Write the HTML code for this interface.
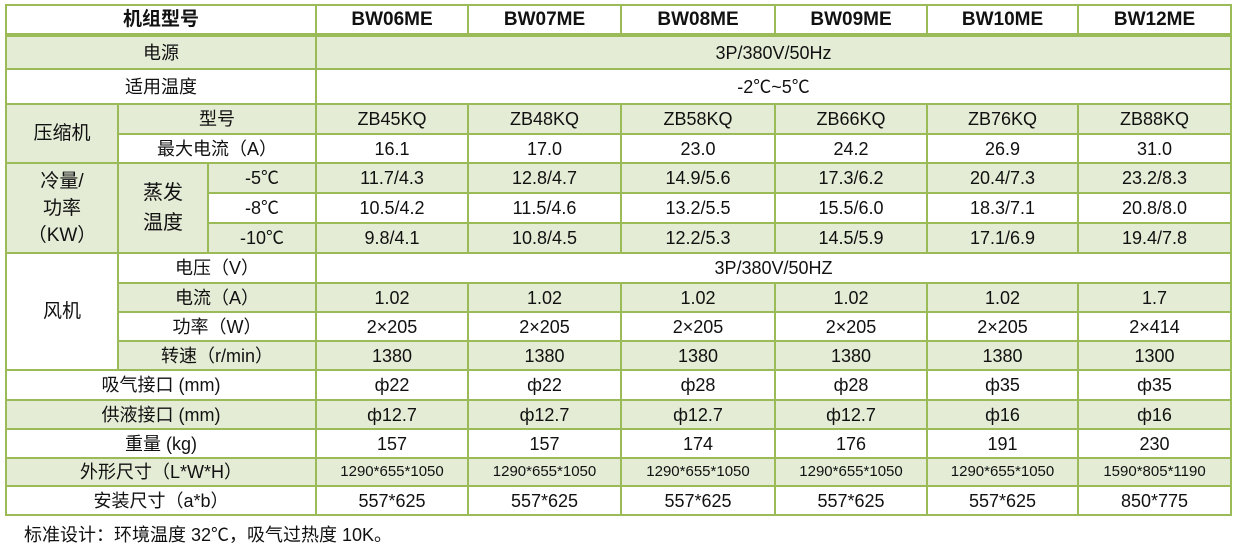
<!DOCTYPE html>
<html><head><meta charset="utf-8"><style>
body{margin:0;background:#fff;width:1238px;height:546px;overflow:hidden;font-family:"Liberation Sans","Noto Sans CJK SC",sans-serif;}
table{position:absolute;left:5px;top:4px;border-collapse:collapse;table-layout:fixed;width:1227px;}
td{border:2px solid #9bbb59;text-align:center;padding:0;font-size:18px;color:#111;line-height:20px;white-space:nowrap;overflow:hidden;}
.g td,td.g{background:#e4ecd6;}
td.w{background:#fff;}
.h td{font-weight:bold;font-size:19px;}
.h td{border-bottom:4px solid #9bbb59;}
.s{font-size:15px;}
.lh1{line-height:27px;font-size:19px;}
.lh2{line-height:30px;font-size:20px;}
.foot{position:absolute;left:24px;top:521px;font-size:18px;color:#111;}
</style></head><body>
<table>
<colgroup><col style="width:112px"><col style="width:90px"><col style="width:108px"><col style="width:152px"><col style="width:153px"><col style="width:154px"><col style="width:152px"><col style="width:151px"><col style="width:153px"></colgroup>
<tr class="h" style="height:30px"><td colspan="3">机组型号</td><td>BW06ME</td><td>BW07ME</td><td>BW08ME</td><td>BW09ME</td><td>BW10ME</td><td>BW12ME</td></tr>
<tr class="g" style="height:34px"><td colspan="3">电源</td><td colspan="6">3P/380V/50Hz</td></tr>
<tr style="height:35px"><td colspan="3">适用温度</td><td colspan="6">-2℃~5℃</td></tr>
<tr class="g" style="height:30px"><td rowspan="2" class="g" style="font-size:19px">压缩机</td><td colspan="2">型号</td><td>ZB45KQ</td><td>ZB48KQ</td><td>ZB58KQ</td><td>ZB66KQ</td><td>ZB76KQ</td><td>ZB88KQ</td></tr>
<tr style="height:29px"><td colspan="2">最大电流（A）</td><td>16.1</td><td>17.0</td><td>23.0</td><td>24.2</td><td>26.9</td><td>31.0</td></tr>
<tr class="g" style="height:30px"><td rowspan="3" class="g lh1">冷量/<br>功率<br>（KW）</td><td rowspan="3" class="g lh2">蒸发<br>温度</td><td>-5℃</td><td>11.7/4.3</td><td>12.8/4.7</td><td>14.9/5.6</td><td>17.3/6.2</td><td>20.4/7.3</td><td>23.2/8.3</td></tr>
<tr style="height:30px"><td>-8℃</td><td>10.5/4.2</td><td>11.5/4.6</td><td>13.2/5.5</td><td>15.5/6.0</td><td>18.3/7.1</td><td>20.8/8.0</td></tr>
<tr class="g" style="height:30px"><td>-10℃</td><td>9.8/4.1</td><td>10.8/4.5</td><td>12.2/5.3</td><td>14.5/5.9</td><td>17.1/6.9</td><td>19.4/7.8</td></tr>
<tr style="height:30px"><td rowspan="4" class="w" style="font-size:19px">风机</td><td colspan="2">电压（V）</td><td colspan="6">3P/380V/50HZ</td></tr>
<tr class="g" style="height:29px"><td colspan="2">电流（A）</td><td>1.02</td><td>1.02</td><td>1.02</td><td>1.02</td><td>1.02</td><td>1.7</td></tr>
<tr style="height:29px"><td colspan="2">功率（W）</td><td>2×205</td><td>2×205</td><td>2×205</td><td>2×205</td><td>2×205</td><td>2×414</td></tr>
<tr class="g" style="height:29px"><td colspan="2">转速（r/min）</td><td>1380</td><td>1380</td><td>1380</td><td>1380</td><td>1380</td><td>1300</td></tr>
<tr style="height:30px"><td colspan="3">吸气接口 (mm)</td><td>ф22</td><td>ф22</td><td>ф28</td><td>ф28</td><td>ф35</td><td>ф35</td></tr>
<tr class="g" style="height:29px"><td colspan="3">供液接口 (mm)</td><td>ф12.7</td><td>ф12.7</td><td>ф12.7</td><td>ф12.7</td><td>ф16</td><td>ф16</td></tr>
<tr style="height:29px"><td colspan="3">重量 (kg)</td><td>157</td><td>157</td><td>174</td><td>176</td><td>191</td><td>230</td></tr>
<tr class="g" style="height:28px"><td colspan="3">外形尺寸（L*W*H）</td><td class="s">1290*655*1050</td><td class="s">1290*655*1050</td><td class="s">1290*655*1050</td><td class="s">1290*655*1050</td><td class="s">1290*655*1050</td><td class="s">1590*805*1190</td></tr>
<tr style="height:29px"><td colspan="3">安装尺寸（a*b）</td><td>557*625</td><td>557*625</td><td>557*625</td><td>557*625</td><td>557*625</td><td>850*775</td></tr>
</table>
<div class="foot">标准设计：环境温度 32℃，吸气过热度 10K。</div>
</body></html>
